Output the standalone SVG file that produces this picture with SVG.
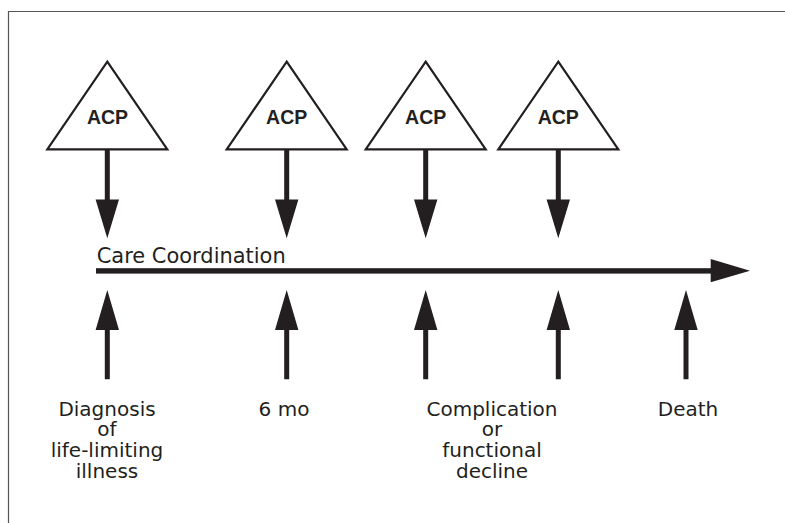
<svg xmlns="http://www.w3.org/2000/svg" xmlns:xlink="http://www.w3.org/1999/xlink" width="785" height="523" viewBox="0 0 785 523">
  <style>
    .tri { fill: #ffffff; stroke: #231f20; stroke-width: 2.2; stroke-linejoin: miter; }
    .acp { font-family: "Liberation Sans", Arial, sans-serif; font-weight: bold; font-size: 19.5px; fill: #231f20; text-anchor: middle; }
    .lbl { font-family: "DejaVu Sans", "Liberation Sans", sans-serif; font-size: 20px; fill: #231f20; text-anchor: middle; }
    .title { font-family: "DejaVu Sans", "Liberation Sans", sans-serif; font-size: 20.5px; fill: #231f20; }
    .arrow { fill: #231f20; }
  </style>
  <defs>
    <path id="down" d="M-2.5,149.5 V199.5 H-11.7 L0,238.3 L11.7,199.5 H2.5 V149.5 Z"/>
    <path id="up" d="M-2.5,379.3 V330 H-11.7 L0,290 L11.7,330 H2.5 V379.3 Z"/>
  </defs>
  <rect width="785" height="523" fill="#ffffff"/>
  <path d="M8.5,523 V11.5 H785" fill="none" stroke="#555555" stroke-width="1.2"/>

  <g id="acp1">
    <polygon class="tri" points="107.3,61.7 167.3,149.3 47.3,149.3"/>
    <text class="acp" x="107.5" y="124">ACP</text>
  </g>
  <g id="acp2">
    <polygon class="tri" points="286.7,61.7 346.7,149.3 226.7,149.3"/>
    <text class="acp" x="286.7" y="124">ACP</text>
  </g>
  <g id="acp3">
    <polygon class="tri" points="425.7,61.7 485.7,149.3 365.7,149.3"/>
    <text class="acp" x="425.7" y="124">ACP</text>
  </g>
  <g id="acp4">
    <polygon class="tri" points="558.3,61.7 618.3,149.3 498.3,149.3"/>
    <text class="acp" x="558.3" y="124">ACP</text>
  </g>

  <g id="timeline">
    <text class="title" x="96.7" y="263.3" textLength="189" lengthAdjust="spacingAndGlyphs">Care Coordination</text>
  </g>

  <g id="connectors">
    <rect class="arrow" x="96" y="268.2" width="616" height="5.4"/>
    <polygon class="arrow" points="710.7,259 750,270.8 710.7,282.3"/>
    <use xlink:href="#down" href="#down" class="arrow" x="107.3"/>
    <use xlink:href="#down" href="#down" class="arrow" x="286.7"/>
    <use xlink:href="#down" href="#down" class="arrow" x="425.7"/>
    <use xlink:href="#down" href="#down" class="arrow" x="558.3"/>
    <use xlink:href="#up" href="#up" class="arrow" x="107.3"/>
    <use xlink:href="#up" href="#up" class="arrow" x="286.7"/>
    <use xlink:href="#up" href="#up" class="arrow" x="425.7"/>
    <use xlink:href="#up" href="#up" class="arrow" x="558.3"/>
    <use xlink:href="#up" href="#up" class="arrow" x="686"/>
  </g>

  <g id="diagnosis">
    <text class="lbl" x="107" y="415.5">Diagnosis</text>
    <text class="lbl" x="107" y="436.3">of</text>
    <text class="lbl" x="107" y="457.1">life-limiting</text>
    <text class="lbl" x="107" y="477.9">illness</text>
  </g>
  <g id="six-months">
    <text class="lbl" x="284" y="415.5">6 mo</text>
  </g>
  <g id="complication">
    <text class="lbl" x="492" y="415.5">Complication</text>
    <text class="lbl" x="492" y="436.3">or</text>
    <text class="lbl" x="492" y="457.1">functional</text>
    <text class="lbl" x="492" y="477.9">decline</text>
  </g>
  <g id="death">
    <text class="lbl" x="688" y="415.5">Death</text>
  </g>
</svg>
